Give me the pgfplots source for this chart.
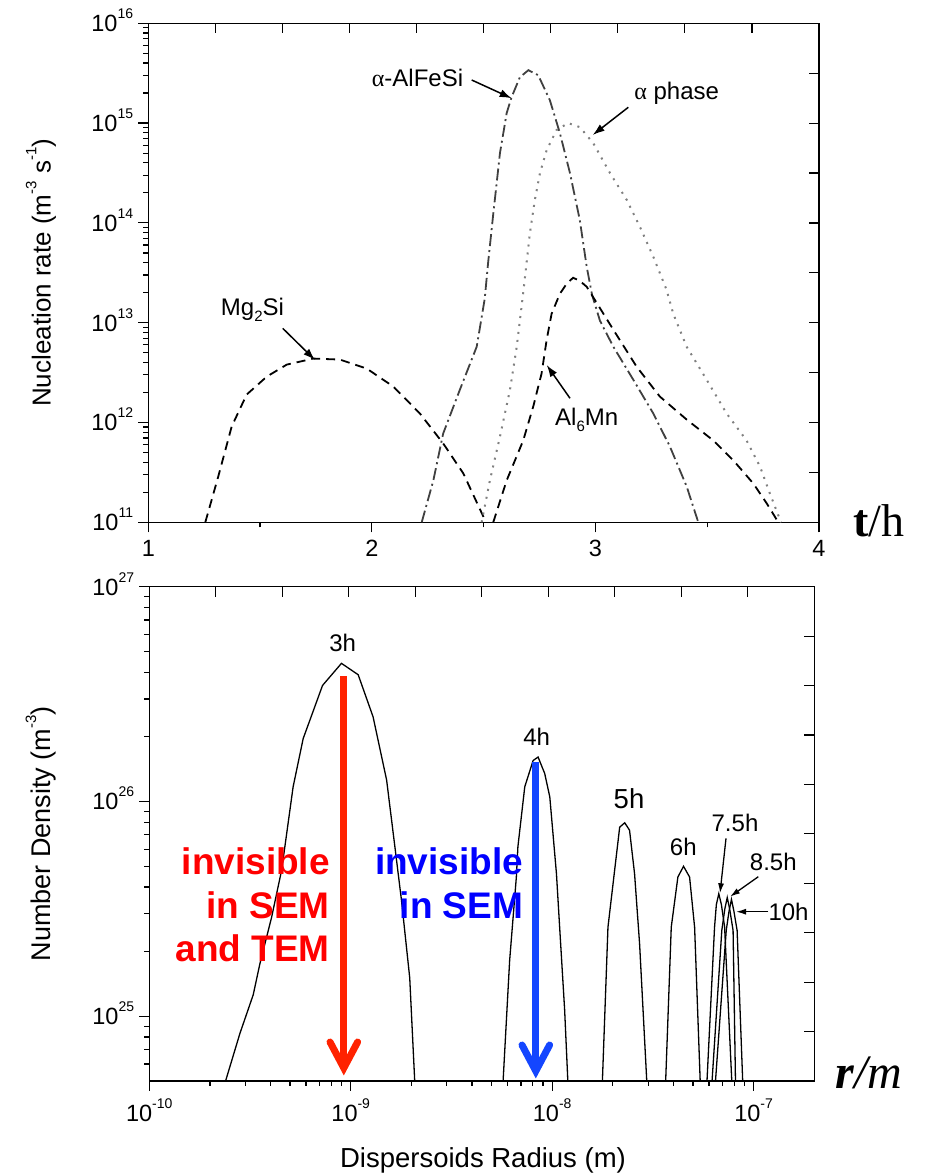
\documentclass[border=0pt]{standalone}
\usepackage{fontspec}
\setmainfont{Liberation Sans}
\newfontfamily\serifont{Liberation Serif}
\usepackage{pgfplots}
\pgfplotsset{compat=1.18}
\usetikzlibrary{arrows.meta}
\newcommand\tsup[1]{\raisebox{13pt}{\fontsize{14}{14}\selectfont #1}}
\newcommand\ten[1]{10\tsup{#1}}
\newcommand\lsup[1]{\raisebox{0.55em}{\fontsize{15}{15}\selectfont #1}}
\newcommand\lsub[1]{\raisebox{-0.25em}{\fontsize{15}{15}\selectfont #1}}
\definecolor{redarrow}{RGB}{255,34,0}
\definecolor{bluearrow}{RGB}{20,70,255}
\definecolor{dkgray}{RGB}{64,64,64}
\definecolor{ltgray}{RGB}{128,128,128}
\pgfplotsset{
  base/.style={scale only axis, anchor=south west, tick align=outside, tick pos=left,
    major tick length=10pt, minor tick length=5pt,
    axis line style={line width=1.4pt},
    every tick/.style={line width=1.2pt, black},
    tick label style={font=\fontsize{23.5}{26}\selectfont},
    yticklabel style={anchor=base east, inner sep=0pt, xshift=-5pt, yshift=-8.5pt},
    xticklabel style={anchor=north, inner sep=0pt, yshift=-8pt}},
  over/.style={scale only axis, anchor=south west, xmin=0, xmax=10, ymin=0, ymax=10,
    axis x line*=top, axis y line*=right, xtick={1,...,9}, ytick={1,...,9},
    xticklabels={}, yticklabels={}, tick align=inside, major tick length=10pt,
    axis line style={line width=1.4pt, -},
    every tick/.style={line width=1.2pt, black}},
  rline/.style={black, line width=1.3pt, no marks, solid}
}
\begin{document}
\begin{tikzpicture}[x=1pt,y=1pt]
\path[use as bounding box] (0,0) rectangle (928,-1176);
% ---------------- top axis ----------------
\begin{axis}[base, at={(148.3pt,-522.3pt)}, width=670.7pt, height=499pt,
  xmin=1, xmax=4, ymode=log, ymin=1e11, ymax=1e16,
  xtick={1,2,3,4}, xticklabels={1,2,3,4}, minor xtick={1.5,2.5,3.5},
  ytick={1e11,1e12,1e13,1e14,1e15,1e16},
  yticklabels={\ten{11},\ten{12},\ten{13},\ten{14},\ten{15},\ten{16}},
  minor ytick={2e11,3e11,4e11,5e11,6e11,7e11,8e11,9e11,
    2e12,3e12,4e12,5e12,6e12,7e12,8e12,9e12,
    2e13,3e13,4e13,5e13,6e13,7e13,8e13,9e13,
    2e14,3e14,4e14,5e14,6e14,7e14,8e14,9e14,
    2e15,3e15,4e15,5e15,6e15,7e15,8e15,9e15}]
% Mg2Si
\addplot[black, line width=1.8pt, dash pattern=on 9pt off 6pt] coordinates {
 (1.255,1e11) (1.313,2.88e11) (1.373,9.12e11) (1.44,1.905e12) (1.53,2.884e12)
 (1.619,3.80e12) (1.738,4.37e12) (1.857,4.27e12) (1.977,3.47e12) (2.096,2.29e12)
 (2.215,1.23e12) (2.319,6.17e11) (2.409,3.09e11) (2.498,1.15e11) (2.505,1e11)};
% alpha-AlFeSi
\addplot[dkgray, line width=1.8pt, dash pattern=on 12pt off 4pt on 2pt off 4pt] coordinates {
 (2.223,1e11) (2.275,2.63e11) (2.319,7.76e11) (2.394,2.14e12) (2.469,5.75e12)
 (2.505,1.75e13) (2.52,4.0e13) (2.543,1.23e14) (2.573,5.01e14) (2.603,1.26e15)
 (2.625,1.82e15) (2.662,2.88e15) (2.70,3.39e15) (2.744,3.02e15) (2.796,1.70e15)
 (2.841,7.94e14) (2.886,3.16e14) (2.93,1.07e14) (2.961,3.63e13) (2.985,1.9e13)
 (3.02,1.05e13) (3.08,5.75e12) (3.169,2.69e12) (3.259,1.23e12) (3.333,5.75e11)
 (3.408,2.29e11) (3.46,1e11)};
% alpha phase
\addplot[ltgray, line width=2pt, dash pattern=on 2pt off 6pt] coordinates {
 (2.491,1e11) (2.528,2.63e11) (2.573,7.24e11) (2.618,2.14e12) (2.648,5.75e12)
 (2.677,2.0e13) (2.707,7.94e13) (2.729,1.70e14) (2.752,3.16e14) (2.782,5.37e14)
 (2.826,8.51e14) (2.878,1.0e15) (2.93,9.12e14) (2.99,6.31e14) (3.065,3.16e14)
 (3.14,1.70e14) (3.199,9.12e13) (3.259,4.57e13) (3.318,2.14e13) (3.348,1.23e13)
 (3.408,5.75e12) (3.497,2.69e12) (3.587,1.23e12) (3.676,6.61e11) (3.736,3.63e11)
 (3.78,1.95e11) (3.825,1.07e11) (3.83,1e11)};
% Al6Mn
\addplot[black, line width=1.8pt, dash pattern=on 9pt off 6pt] coordinates {
 (2.543,1e11) (2.603,2.63e11) (2.677,6.61e11) (2.722,1.45e12) (2.759,3.09e12)
 (2.782,6.76e12) (2.804,1.23e13) (2.841,1.95e13) (2.871,2.45e13) (2.90,2.82e13)
 (2.93,2.63e13) (2.961,2.29e13) (3.08,8.51e12) (3.184,3.63e12) (3.288,1.82e12)
 (3.408,1.07e12) (3.527,6.61e11) (3.617,4.17e11) (3.706,2.45e11) (3.766,1.55e11)
 (3.81,1.07e11) (3.815,1e11)};
\end{axis}
\begin{axis}[over, at={(148.3pt,-522.3pt)}, width=670.7pt, height=499pt]
\end{axis}
% ---------------- bottom axis ----------------
\begin{axis}[base, at={(149.3pt,-1081pt)}, width=665pt, height=494.3pt,
  xmode=log, ymode=log, xmin=1e-10, xmax=2e-7, ymin=5e24, ymax=1e27,
  xtick={1e-10,1e-9,1e-8,1e-7}, xticklabels={\ten{-10},\ten{-9},\ten{-8},\ten{-7}},
  minor xtick={2e-10,3e-10,4e-10,5e-10,6e-10,7e-10,8e-10,9e-10,
    2e-9,3e-9,4e-9,5e-9,6e-9,7e-9,8e-9,9e-9,
    2e-8,3e-8,4e-8,5e-8,6e-8,7e-8,8e-8,9e-8},
  ytick={1e25,1e26,1e27}, yticklabels={\ten{25},\ten{26},\ten{27}},
  minor ytick={6e24,7e24,8e24,9e24,2e25,3e25,4e25,5e25,6e25,7e25,8e25,9e25,
    2e26,3e26,4e26,5e26,6e26,7e26,8e26,9e26}]
% 3h
\addplot[rline] coordinates {
 (2.377e-10,4.9e24) (2.818e-10,8.32e24) (3.281e-10,1.259e25) (3.540e-10,1.754e25)
 (4.046e-10,2.884e25) (4.539e-10,4.786e25) (4.808e-10,7.079e25) (5.176e-10,1.169e26)
 (5.808e-10,1.963e26) (7.244e-10,3.467e26) (8.995e-10,4.395e26) (1.089e-9,3.890e26)
 (1.291e-9,2.477e26) (1.507e-9,1.259e26) (1.656e-9,6.17e25) (1.786e-9,3.47e25)
 (1.963e-9,1.51e25) (2.080e-9,4.9e24)};
% 4h
\addplot[rline] coordinates {
 (5.70e-9,4.9e24) (6.15e-9,1.82e25) (6.64e-9,4.45e25) (6.76e-9,6.17e25)
 (7.31e-9,1.17e26) (8.04e-9,1.55e26) (8.51e-9,1.61e26) (9.18e-9,1.35e26)
 (9.73e-9,1.05e26) (1.05e-8,4.61e25) (1.089e-8,2.60e25) (1.153e-8,1.07e25)
 (1.197e-8,4.9e24)};
% 5h
\addplot[rline] coordinates {
 (1.774e-8,4.9e24) (1.892e-8,2.60e25) (2.042e-8,4.79e25) (2.163e-8,7.59e25)
 (2.291e-8,7.96e25) (2.421e-8,7.35e25) (2.564e-8,4.61e25) (2.716e-8,2.17e25)
 (2.951e-8,4.9e24)};
% 6h
\addplot[rline] coordinates {
 (3.656e-8,4.9e24) (3.90e-8,2.60e25) (4.207e-8,4.45e25) (4.487e-8,4.99e25)
 (4.808e-8,4.45e25) (5.093e-8,2.60e25) (5.433e-8,4.9e24)};
% 7.5h
\addplot[rline] coordinates {
 (5.861e-8,4.9e24) (6.397e-8,2.60e25) (6.53e-8,3.31e25) (6.714e-8,3.72e25)
 (6.918e-8,3.31e25) (7.178e-8,2.60e25) (7.798e-8,4.9e24)};
% 8.5h
\addplot[rline] coordinates {
 (6.209e-8,4.9e24) (6.950e-8,2.51e25) (7.194e-8,3.16e25) (7.396e-8,3.57e25)
 (7.603e-8,3.16e25) (7.907e-8,2.51e25) (8.128e-8,4.9e24)};
% 10h
\addplot[rline] coordinates {
 (6.457e-8,4.9e24) (7.311e-8,2.51e25) (7.551e-8,3.09e25) (7.762e-8,3.50e25)
 (7.980e-8,3.09e25) (8.279e-8,2.51e25) (8.831e-8,4.9e24)};
\end{axis}
\begin{axis}[over, at={(149.3pt,-1081pt)}, width=665pt, height=494.3pt]
\end{axis}
% ---------------- labels ----------------
\node[rotate=90, font=\fontsize{26}{30}\selectfont] at (41,-272.8)
  {Nucleation rate (m\lsup{-3} s\lsup{-1})};
\node[rotate=90, font=\fontsize{27}{30}\selectfont] at (41,-833.8)
  {Number Density (m\lsup{-3})};
\node[font=\fontsize{27.5}{30}\selectfont] at (483,-1160) {Dispersoids Radius (m)};
\node[anchor=base west, inner sep=0pt, font=\serifont\fontsize{46}{50}\selectfont]
  at (853,-536.7) {\textbf{t}/h};
\node[anchor=base west, inner sep=0pt, font=\serifont\fontsize{48}{52}\selectfont]
  at (835,-1088) {\textbf{\textit{r}}\textit{/m}};
% top annotations
\begin{scope}[font=\fontsize{24}{28}\selectfont, inner sep=0pt]
\node[anchor=east] at (463.3,-78.3) {{\serifont α}-AlFeSi};
\node at (676.7,-93) {{\serifont α} phase};
\node at (252.5,-310) {Mg\lsub{2}Si};
\node at (586.7,-420) {Al\lsub{6}Mn};
\end{scope}
\begin{scope}[line width=1.5pt, -{Latex[length=12pt,width=8pt]}]
\draw (471.7,-80) -- (511.7,-98.3);
\draw (628.3,-107.3) -- (592.7,-135);
\draw (282.7,-328.3) -- (315,-360);
\draw (570,-398.3) -- (546.7,-365);
\end{scope}
% bottom annotations
\begin{scope}[font=\fontsize{24}{28}\selectfont, inner sep=0pt]
\node at (342.7,-643.3) {3h};
\node at (536.7,-736.7) {4h};
\node[font=\fontsize{27.5}{30}\selectfont] at (629,-798.3) {5h};
\node at (683.3,-846.7) {6h};
\node at (735,-823.3) {7.5h};
\node at (773.3,-861.7) {8.5h};
\node[anchor=west] at (768.3,-911.7) {10h};
\end{scope}
\begin{scope}[line width=1.3pt, -{Latex[length=10pt,width=6pt]}]
\draw (726,-838.3) -- (720,-893.3);
\draw (758.3,-876.7) -- (730,-896.7);
\draw (768.3,-911.7) -- (736,-911.7);
\end{scope}
% arrows
\draw[redarrow, line width=7pt] (343.5,-676) -- (343.5,-1066);
\draw[redarrow, line width=7pt, line cap=round, line join=miter] (330,-1042) -- (343.8,-1068) -- (357.6,-1042);
\draw[bluearrow, line width=7pt] (535.5,-761.7) -- (535.5,-1068);
\draw[bluearrow, line width=7pt, line cap=round, line join=miter] (522,-1045) -- (535.8,-1071) -- (549.6,-1045);
% invisible texts
\begin{scope}[font=\fontsize{37}{43}\selectfont\bfseries, inner sep=0pt, anchor=east]
\node[red] at (330,-861.7) {invisible};
\node[red] at (330,-905) {in SEM};
\node[red] at (330,-948.3) {and TEM};
\node[blue] at (523.3,-861.7) {invisible};
\node[blue] at (523.3,-905) {in SEM};
\end{scope}
\end{tikzpicture}
\end{document}
